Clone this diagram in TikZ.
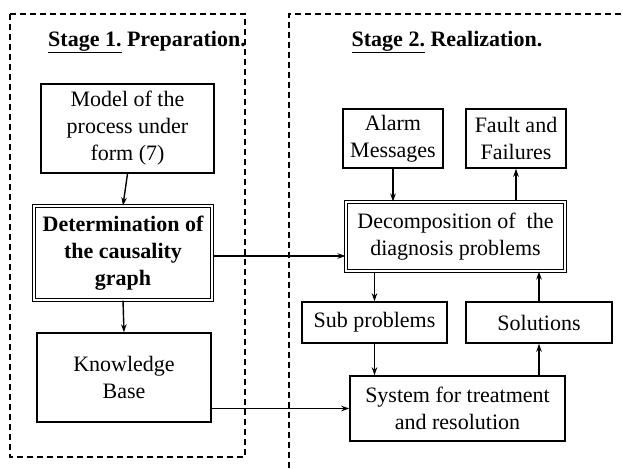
\documentclass[tikz,border=0pt]{standalone}
\usepackage{fontspec}
\setmainfont{Liberation Serif}
\usetikzlibrary{arrows.meta,calc}
\tikzset{
  boxstyle/.style={draw, line width=1.5pt, inner sep=0pt, align=center, anchor=center,
    font=\fontsize{22}{27}\selectfont},
  dblbox/.style={boxstyle, double, double distance=1.6pt, line width=1.1pt},
  arr/.style={line width=1.4pt, -{Stealth[length=8pt,width=5.5pt]}},
  stagebox/.style={dash pattern=on 6pt off 4pt, line width=1.4pt},
  titlestyle/.style={font=\fontsize{22}{27}\selectfont\bfseries, inner sep=0pt}
}
\begin{document}
\begin{tikzpicture}[x=1pt,y=-1pt]
\useasboundingbox (0,0) rectangle (623,468);
% stage frames
\draw[stagebox] (10,14) rectangle (245,457);
\coordinate (r1) at (289,468);
\coordinate (r2) at (289,14);
\coordinate (r3) at (623,14);
\draw[stagebox] (r1) -- (r2) -- (r3);
% titles
\node[titlestyle] (t1) at (147,42) {\underline{Stage 1.} Preparation.};
\node[titlestyle] (t2) at (447,42) {\underline{Stage 2.} Realization.};
% stage 1
\node[boxstyle, minimum width=173pt, minimum height=89pt] (model) at (127.5,128.5)
  {Model of the\\process under\\form (7)};
\node[dblbox, minimum width=178pt, minimum height=94pt, font=\fontsize{22}{27}\selectfont\bfseries] (det) at (123,253)
  {Determination of\\the causality\\graph};
\node[boxstyle, minimum width=174pt, minimum height=89pt] (know) at (124,377.5)
  {Knowledge\\Base};
% stage 2
\node[boxstyle, minimum width=100pt, minimum height=59pt] (alarm) at (393,138.5)
  {Alarm\\Messages};
\node[boxstyle, minimum width=100pt, minimum height=59pt] (fault) at (516,138.5)
  {Fault and\\Failures};
\node[dblbox, minimum width=219pt, minimum height=69pt] (dec) at (455.5,236.5)
  {Decomposition of~ the\\diagnosis problems};
\node[boxstyle, minimum width=145pt, minimum height=41pt] (sub) at (374.5,322.5)
  {Sub problems};
\node[boxstyle, minimum width=146pt, minimum height=41pt] (sol) at (539,322.5)
  {Solutions};
\node[boxstyle, minimum width=215pt, minimum height=65pt] (sys) at (457.5,408.5)
  {System for treatment\\and resolution};
% connectors
\draw[arr] (model.south) -- (det.north);
\draw[arr] (det.south) -- (know.north);
\draw[arr] (det.east |- 0,256) -- (dec.west |- 0,256);
\draw[arr] (know.east |- sys.west) -- (sys.west);
\draw[arr] (alarm.south) -- (alarm.south |- dec.north);
\draw[arr] (fault.south |- dec.north) -- (fault.south);
\draw[arr] (sub.north |- dec.south) -- (sub.north);
\draw[arr] (sub.south) -- (sub.south |- sys.north);
\draw[arr] (sol.south |- sys.north) -- (sol.south);
\draw[arr] (sol.north) -- (sol.north |- dec.south);
\end{tikzpicture}
\end{document}
